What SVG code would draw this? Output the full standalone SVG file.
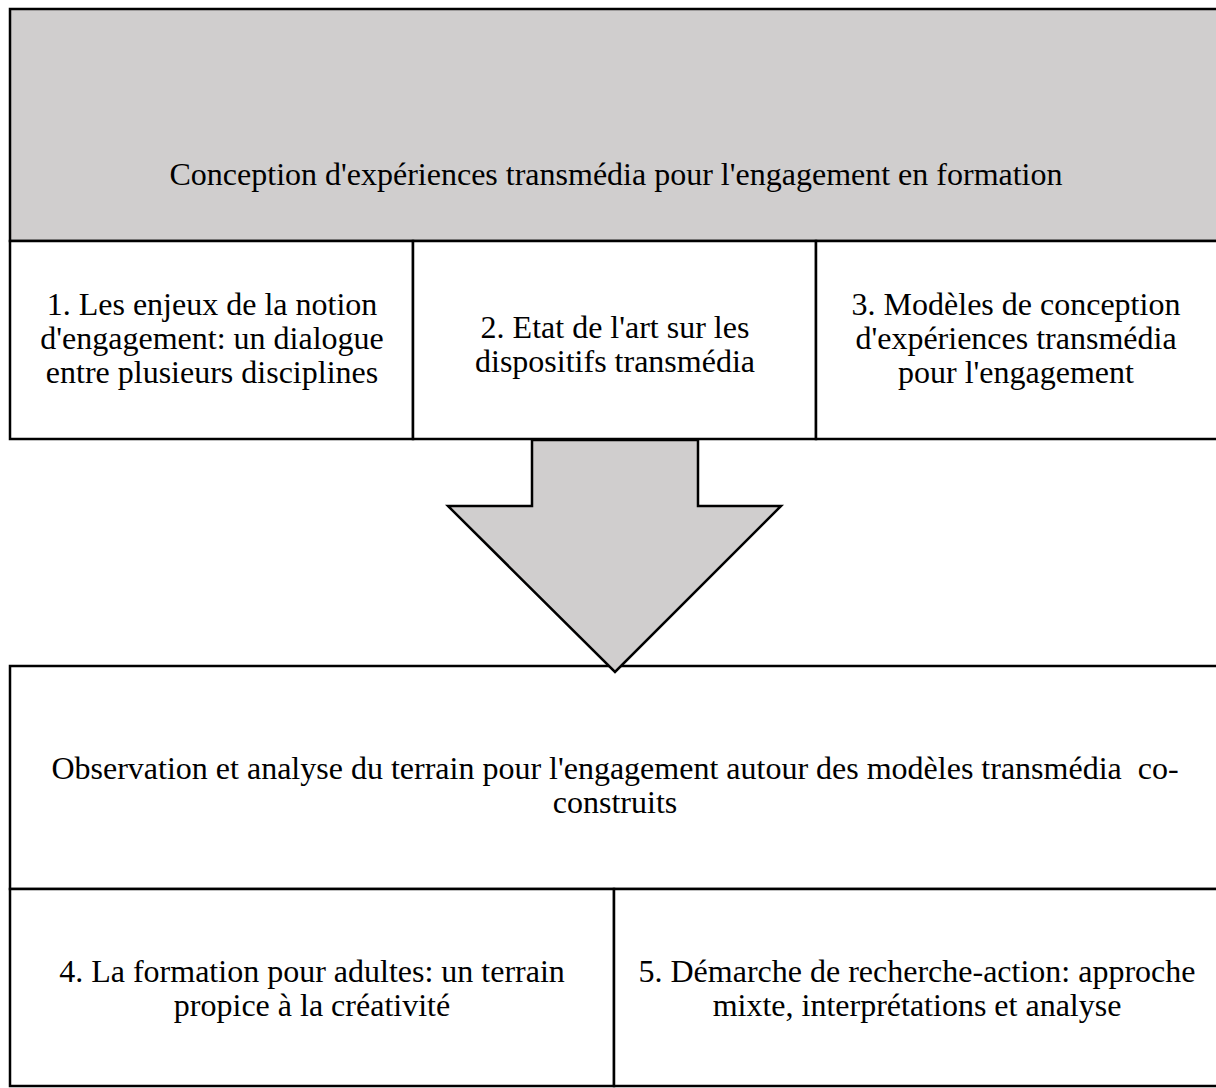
<svg xmlns="http://www.w3.org/2000/svg" width="1216" height="1088" viewBox="0 0 1216 1088">
<style>
  .box{fill:#ffffff;stroke:#000000;stroke-width:2.5}
  .gray{fill:#d0cece;stroke:#000000;stroke-width:2.5}
  .t{font-family:"Liberation Serif","Times New Roman",serif;font-size:32px;fill:#000000;text-anchor:middle}
</style>
<rect x="0" y="0" width="1216" height="1088" fill="#ffffff"/>
<g id="title">
  <rect class="gray" x="10" y="9" width="1209" height="232"/>
  <text class="t" x="616" y="185">Conception d'expériences transmédia pour l'engagement en formation</text>
</g>
<g id="node1">
  <rect class="box" x="10" y="241" width="403" height="198"/>
  <text class="t" x="212" y="315">1. Les enjeux de la notion</text>
  <text class="t" x="212" y="349">d'engagement: un dialogue</text>
  <text class="t" x="212" y="383">entre plusieurs disciplines</text>
</g>
<g id="node2">
  <rect class="box" x="413" y="241" width="403" height="198"/>
  <text class="t" x="615" y="338">2. Etat de l'art sur les</text>
  <text class="t" x="615" y="372">dispositifs transmédia</text>
</g>
<g id="node3">
  <rect class="box" x="816" y="241" width="403" height="198"/>
  <text class="t" x="1016" y="315">3. Modèles de conception</text>
  <text class="t" x="1016" y="349">d'expériences transmédia</text>
  <text class="t" x="1016" y="383">pour l'engagement</text>
</g>
<g id="observation">
  <rect class="box" x="10" y="666" width="1209" height="223"/>
  <text class="t" x="615" y="779">Observation et analyse du terrain pour l'engagement autour des modèles transmédia&#160; co-</text>
  <text class="t" x="615" y="813">construits</text>
</g>
<g id="node4">
  <rect class="box" x="10" y="889" width="604" height="197"/>
  <text class="t" x="312" y="982">4. La formation pour adultes: un terrain</text>
  <text class="t" x="312" y="1016">propice à la créativité</text>
</g>
<g id="node5">
  <rect class="box" x="614" y="889" width="605" height="197"/>
  <text class="t" x="917" y="982">5. Démarche de recherche-action: approche</text>
  <text class="t" x="917" y="1016">mixte, interprétations et analyse</text>
</g>
<g id="connectors">
  <polygon class="gray" points="532,440 698,440 698,506 781,506 615,672 448,506 532,506" stroke-linejoin="miter"/>
</g>
</svg>
